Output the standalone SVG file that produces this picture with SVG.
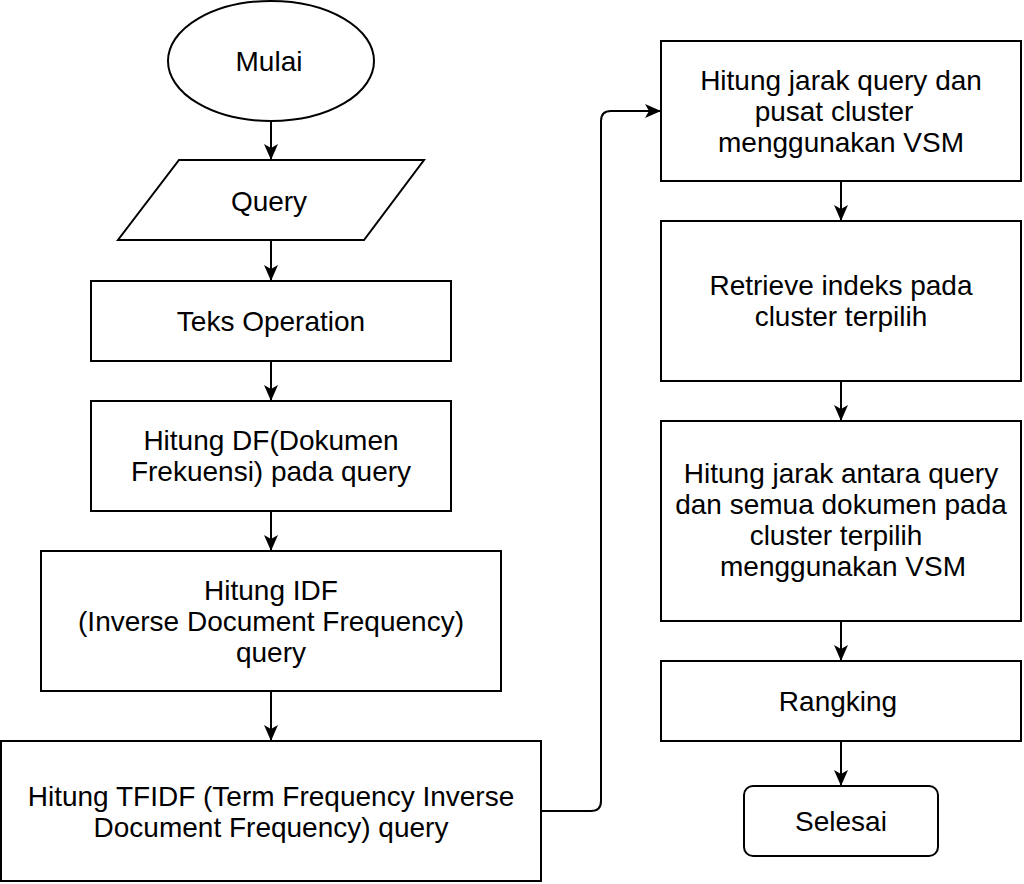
<svg xmlns="http://www.w3.org/2000/svg" width="1024" height="884" viewBox="0 0 1024 884">
<style>
.s{fill:#fff;stroke:#000;stroke-width:2}
.t{font-family:"Liberation Sans",Arial,sans-serif;font-size:28px;fill:#000;text-anchor:middle}
.c{fill:none;stroke:#000;stroke-width:2}
</style>
<defs>
<marker id="a" markerUnits="userSpaceOnUse" viewBox="0 0 16 14" refX="16" refY="7" markerWidth="16" markerHeight="14" orient="auto">
<path d="M0,0 L16,7 L0,14 L4,7 Z" fill="#000"/>
</marker>
</defs>
<rect width="1024" height="884" fill="#fff"/>
<g id="connectors">
<path class="c" d="M271,121 L271,160" marker-end="url(#a)"/>
<path class="c" d="M271,240 L271,281" marker-end="url(#a)"/>
<path class="c" d="M271,361 L271,401" marker-end="url(#a)"/>
<path class="c" d="M271,511 L271,551" marker-end="url(#a)"/>
<path class="c" d="M271,691 L271,741" marker-end="url(#a)"/>
<path class="c" d="M541,811 L591,811 Q601,811 601,801 L601,121 Q601,111 611,111 L661,111" marker-end="url(#a)"/>
<path class="c" d="M841,181 L841,221" marker-end="url(#a)"/>
<path class="c" d="M841,381 L841,421" marker-end="url(#a)"/>
<path class="c" d="M841,621 L841,661" marker-end="url(#a)"/>
<path class="c" d="M841,741 L841,786" marker-end="url(#a)"/>
</g>
<g id="mulai">
<ellipse class="s" cx="271" cy="61" rx="103" ry="60"/>
<text class="t" x="269" y="71">Mulai</text>
</g>
<g id="query">
<polygon class="s" points="179,160 424,160 364,240 118,240"/>
<text class="t" x="269" y="211">Query</text>
</g>
<g id="teks">
<rect class="s" x="91" y="281" width="360" height="80"/>
<text class="t" x="271" y="331">Teks Operation</text>
</g>
<g id="df">
<rect class="s" x="91" y="401" width="360" height="110"/>
<text class="t" x="271" y="450">Hitung DF(Dokumen</text>
<text class="t" x="271" y="481">Frekuensi) pada query</text>
</g>
<g id="idf">
<rect class="s" x="41" y="551" width="460" height="140"/>
<text class="t" x="271" y="600">Hitung IDF</text>
<text class="t" x="271" y="631">(Inverse Document Frequency)</text>
<text class="t" x="271" y="662">query</text>
</g>
<g id="tfidf">
<rect class="s" x="1" y="741" width="540" height="140"/>
<text class="t" x="271" y="806">Hitung TFIDF (Term Frequency Inverse</text>
<text class="t" x="271" y="837">Document Frequency) query</text>
</g>
<g id="jarak1">
<rect class="s" x="661" y="41" width="360" height="140"/>
<text class="t" x="841" y="90">Hitung jarak query dan</text>
<text class="t" x="834" y="121">pusat cluster</text>
<text class="t" x="841" y="152">menggunakan VSM</text>
</g>
<g id="retrieve">
<rect class="s" x="661" y="221" width="360" height="160"/>
<text class="t" x="841" y="295">Retrieve indeks pada</text>
<text class="t" x="841" y="326">cluster terpilih</text>
</g>
<g id="jarak2">
<rect class="s" x="661" y="421" width="360" height="200"/>
<text class="t" x="841" y="483">Hitung jarak antara query</text>
<text class="t" x="841" y="514">dan semua dokumen pada</text>
<text class="t" x="836" y="545">cluster terpilih</text>
<text class="t" x="843" y="576">menggunakan VSM</text>
</g>
<g id="rangking">
<rect class="s" x="661" y="661" width="360" height="80"/>
<text class="t" x="838" y="711">Rangking</text>
</g>
<g id="selesai">
<rect class="s" x="744" y="786" width="194" height="70" rx="9"/>
<text class="t" x="841" y="831">Selesai</text>
</g>
</svg>
